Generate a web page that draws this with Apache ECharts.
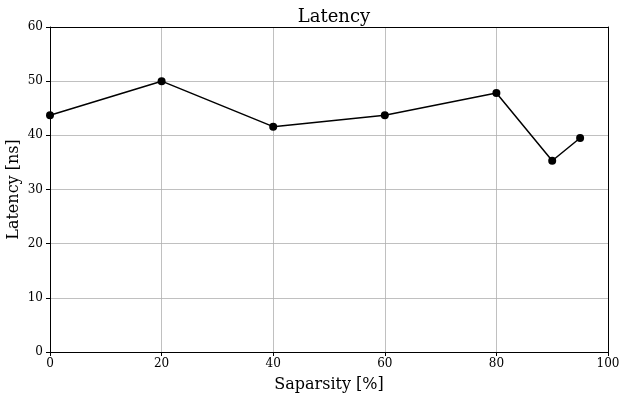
<!DOCTYPE html>
<html lang="en">
<head>
  <meta charset="UTF-8">
  <title>Latency</title>
  <style>
    html, body { margin: 0; padding: 0; background: #fff; }
    #chart { width: 627px; height: 401px; }
  </style>
</head>
<body>
  <div id="chart"></div>
  <script src="https://cdn.jsdelivr.net/npm/echarts@6/dist/echarts.min.js"></script>
  <script>
    // 数据
    var sparsity = [0, 20, 40, 60, 80, 90, 95];
    var latency = [43.7, 50.0, 41.6, 43.7, 47.8, 35.3, 39.5];

    var font = 'DejaVu Serif';
    var myChart = echarts.init(document.getElementById('chart'));

    var points = sparsity.map(function (x, i) { return [x, latency[i]]; });

    // 上边和右边的黑色边框
    function frameAxis(pos, min, max) {
      return {
        type: 'value', position: pos, min: min, max: max,
        axisLine: { show: true, onZero: false, lineStyle: { color: '#000', width: 1 } },
        axisTick: { show: false }, axisLabel: { show: false }, splitLine: { show: false }
      };
    }

    var option = {
      backgroundColor: '#fff',
      animation: false,
      title: {
        text: 'Latency',
        left: 329, top: 3,
        textAlign: 'center',
        textStyle: { fontFamily: font, fontSize: 18, fontWeight: 'normal', color: '#000' }
      },
      grid: {
        left: 50, right: 19, top: 27, bottom: 49,
        containLabel: false, outerBoundsMode: 'none'
      },
      xAxis: [{
        type: 'value', min: 0, max: 100, interval: 20,
        name: 'Saparsity [%]', nameLocation: 'middle', nameGap: 25,
        nameTextStyle: { fontFamily: font, fontSize: 16, color: '#000' },
        axisLine: { lineStyle: { color: '#000' } },
        axisTick: { show: true, length: 4, lineStyle: { color: '#000' } },
        axisLabel: { fontFamily: font, fontSize: 12, color: '#000', margin: 6 },
        splitLine: { show: true, lineStyle: { color: '#b0b0b0', width: 0.8 } }
      }, frameAxis('top', 0, 100)],
      yAxis: [{
        type: 'value', min: 0, max: 60, interval: 10,
        name: 'Latency [ns]', nameLocation: 'middle', nameGap: 28,
        nameMoveOverlap: false,
        nameTextStyle: { fontFamily: font, fontSize: 16, color: '#000' },
        axisLine: { show: true, lineStyle: { color: '#000' } },
        axisTick: { show: true, length: 4, lineStyle: { color: '#000' } },
        axisLabel: { fontFamily: font, fontSize: 12, color: '#000', margin: 7 },
        splitLine: { show: true, lineStyle: { color: '#b0b0b0', width: 0.8 } }
      }, frameAxis('right', 0, 60)],
      series: [{
        type: 'line',
        data: points,
        symbol: 'circle',
        symbolSize: 8,
        itemStyle: { color: '#000' },
        lineStyle: { color: '#000', width: 1.5 }
      }]
    };

    myChart.setOption(option);
  </script>
</body>
</html>
